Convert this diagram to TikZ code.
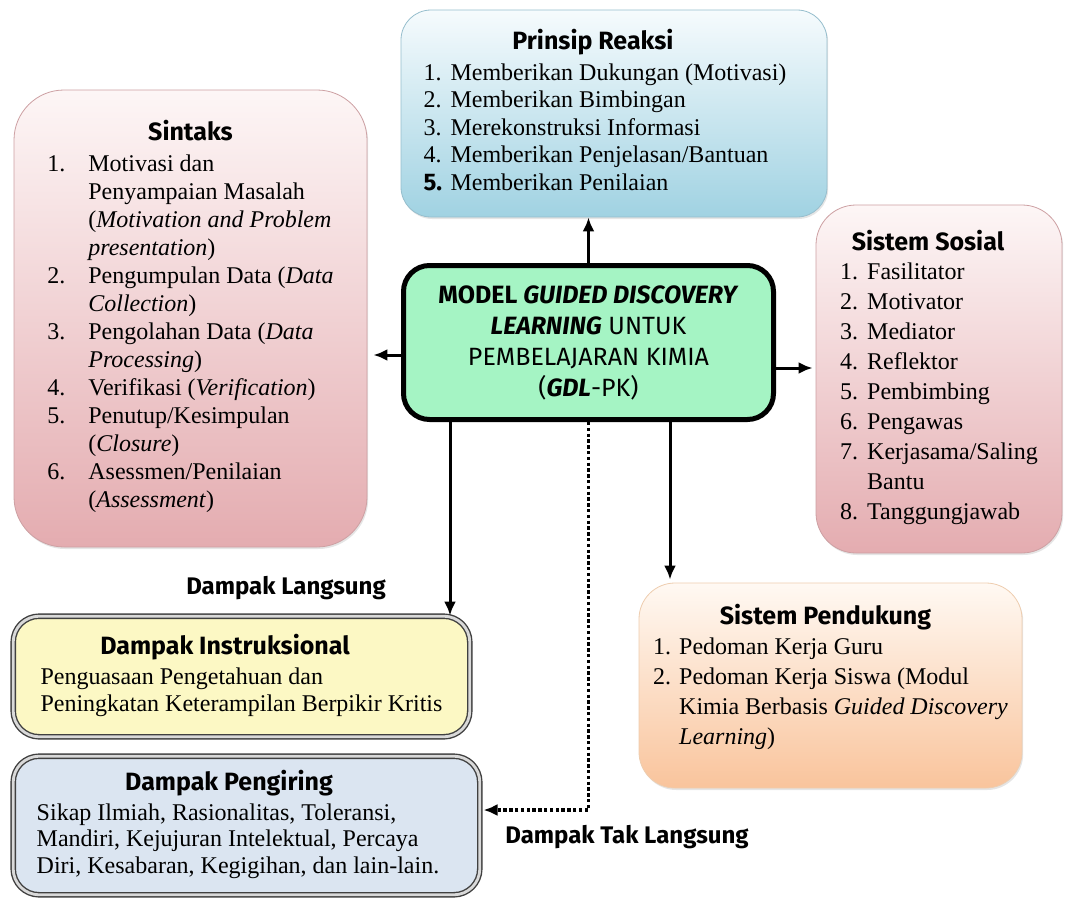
\documentclass[tikz,border=0pt]{standalone}
\usepackage{fontspec}
\setmainfont{Liberation Serif}
\newfontfamily\headfont{Fira Sans}
\usetikzlibrary{arrows.meta, positioning, shadows}
\definecolor{prinsiptop}{RGB}{246,251,253}
\definecolor{prinsipbot}{RGB}{160,210,226}
\definecolor{prinsipline}{RGB}{150,190,205}
\definecolor{pinktop}{RGB}{253,246,246}
\definecolor{pinkbot}{RGB}{228,172,176}
\definecolor{pinkline}{RGB}{205,160,163}
\definecolor{peachtop}{RGB}{255,249,243}
\definecolor{peachbot}{RGB}{249,196,156}
\definecolor{peachline}{RGB}{238,205,175}
\definecolor{mint}{RGB}{165,244,196}
\definecolor{lemon}{RGB}{252,248,196}
\definecolor{steel}{RGB}{219,229,241}
\newcommand*{\heading}[2]{\multicolumn{2}{@{}c@{}}{\hspace*{#1}\headfont\bfseries\fontsize{12.5}{14}\selectfont #2}}
\tikzstyle{box} = [rectangle, inner sep=0pt, font=\fontsize{12}{13.75}\selectfont]
\tikzstyle{shaded} = [box, thin, drop shadow={shadow xshift=0.6pt, shadow yshift=-1pt, opacity=0.2}]
\tikzstyle{prinsipbox} = [shaded, draw=prinsipline, top color=prinsiptop, bottom color=prinsipbot]
\tikzstyle{pinkbox} = [shaded, draw=pinkline, top color=pinktop, bottom color=pinkbot]
\tikzstyle{peachbox} = [shaded, draw=peachline, top color=peachtop, bottom color=peachbot]
\tikzstyle{modelbox} = [rectangle, inner sep=0pt, draw=black, line width=2.5pt, fill=mint, rounded corners=13pt, align=center, font=\headfont\fontsize{12.5}{15.5}\selectfont]
\tikzstyle{impact} = [box, draw=black!75, double=black!15, double distance=1.4pt, line width=0.7pt, rounded corners=13pt]
\tikzstyle{impactlabel} = [font=\headfont\bfseries\fontsize{12}{14}\selectfont]
\tikzstyle{link} = [-{Latex[length=7pt, width=6pt]}, line width=1.5pt]
\tikzstyle{indirect} = [link, line width=1.7pt, dash pattern=on 1.7pt off 1.2pt]

\begin{document}
\begin{tikzpicture}[x=0.5pt, y=-0.5pt]
    \fill [white] (0,0) rectangle (1067,900);
    \useasboundingbox (0,0) rectangle (1067,900);

    % Model.
    \node (model) [modelbox, minimum width=185pt, minimum height=77pt] at (588.5,342.5)
        {\textbf{MODEL \textit{GUIDED DISCOVERY}}\\
         \textbf{\textit{LEARNING}} UNTUK\\
         PEMBELAJARAN KIMIA\\
         (\textbf{\textit{GDL}}-PK)};

    % Components.
    \node (prinsip) [prinsipbox, rounded corners=15pt, minimum width=213pt, minimum height=103.5pt] at (614,113.5)
        {\begin{tabular}{@{}p{13.5pt}@{}l@{}}
            \heading{-12pt}{Prinsip Reaksi}\\[1.75pt]
            1. & Memberikan Dukungan (Motivasi)\\
            2. & Memberikan Bimbingan\\
            3. & Merekonstruksi Informasi\\
            4. & Memberikan Penjelasan/Bantuan\\
            {\headfont\bfseries 5.} & Memberikan Penilaian
        \end{tabular}\hspace*{9pt}};

    \node (sintaks) [pinkbox, rounded corners=25pt, minimum width=176.5pt, minimum height=228.5pt,
        font=\fontsize{12}{14}\selectfont] at (190.5,318.5)
        {\begin{tabular}{@{}p{20.5pt}@{}l@{}}
            \heading{0pt}{Sintaks}\\[1.5pt]
            1. & Motivasi dan\\
               & Penyampaian Masalah\\
               & (\textit{Motivation and Problem}\\
               & \textit{presentation})\\
            2. & Pengumpulan Data (\textit{Data}\\
               & \textit{Collection})\\
            3. & Pengolahan Data (\textit{Data}\\
               & \textit{Processing})\\
            4. & Verifikasi (\textit{Verification})\\
            5. & Penutup/Kesimpulan\\
               & (\textit{Closure})\\
            6. & Asessmen/Penilaian\\
               & (\textit{Assessment})
        \end{tabular}};

    \node (sosial) [pinkbox, rounded corners=20pt, minimum width=123pt, minimum height=174pt,
        font=\fontsize{12}{15}\selectfont] at (939,379)
        {\begin{tabular}{@{}p{13.5pt}@{}l@{}}
            \heading{-11pt}{Sistem Sosial}\\[-0.5pt]
            1. & Fasilitator\\
            2. & Motivator\\
            3. & Mediator\\
            4. & Reflektor\\
            5. & Pembimbing\\
            6. & Pengawas\\
            7. & Kerjasama/Saling\\
               & Bantu\\
            8. & Tanggungjawab
        \end{tabular}};

    \node (pendukung) [peachbox, rounded corners=18pt, minimum width=191.5pt, minimum height=102.5pt,
        font=\fontsize{12}{15}\selectfont] at (830.5,685.5)
        {\begin{tabular}{@{}p{13pt}@{}l@{}}
            \heading{-5pt}{Sistem Pendukung}\\
            1. & Pedoman Kerja Guru\\
            2. & Pedoman Kerja Siswa (Modul\\
               & Kimia Berbasis \textit{Guided Discovery}\\
               & \textit{Learning})\\[7pt]
        \end{tabular}};

    % Impacts.
    \node (instruksional) [impact, fill=lemon, minimum width=228.3pt, minimum height=60.3pt,
        font=\fontsize{12}{13.5}\selectfont] at (241.5,676.5)
        {\begin{tabular}{@{}l@{}l@{}}
            \heading{-16.5pt}{Dampak Instruksional}\\[1.5pt]
            & Penguasaan Pengetahuan dan\\
            & Peningkatan Keterampilan Berpikir Kritis
        \end{tabular}};

    \node (pengiring) [impact, fill=steel, minimum width=233.3pt, minimum height=69.3pt,
        font=\fontsize{12}{13.25}\selectfont] at (246.5,825.5)
        {\begin{tabular}{@{}l@{}l@{}}
            \heading{-9pt}{Dampak Pengiring}\\[1.75pt]
            & Sikap Ilmiah, Rasionalitas, Toleransi,\\
            & Mandiri, Kejujuran Intelektual, Percaya\\
            & Diri, Kesabaran, Kegigihan, dan lain-lain.
        \end{tabular}\hspace*{8.5pt}};

    % Labels.
    \node (langsung) [impactlabel] at (286,588) {Dampak Langsung};
    \node (taklangsung) [impactlabel] at (627,837) {Dampak Tak Langsung};

    % Arrows.
    \draw [link] (model.north) -- (model.north |- prinsip.south);
    \draw [link, shorten >=3pt] ([yshift=-6.25pt]model.west) -- ([yshift=-6.25pt]model.west -| sintaks.east);
    \draw [link, shorten >=1.5pt] ([yshift=-12.75pt]model.east) -- ([yshift=-12.75pt]model.east -| sosial.west);
    \draw [link] ([xshift=-69.25pt]model.south) -- ([xshift=-69.25pt]model.south |- instruksional.north);
    \draw [link, shorten >=1.5pt] ([xshift=40.75pt]model.south) -- ([xshift=40.75pt]model.south |- pendukung.north);
    \draw [indirect, shorten >=1.5pt] (model.south) |- ([yshift=7.75pt]pengiring.east);
\end{tikzpicture}
\end{document}
